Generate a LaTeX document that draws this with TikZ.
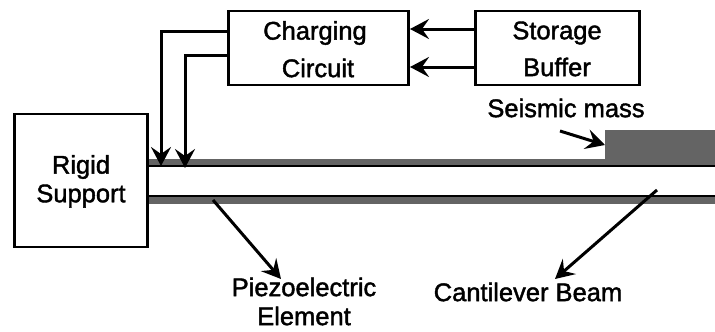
\documentclass[tikz,border=0pt]{standalone}
\usepackage{fontspec}
\setmainfont[FakeBold=1.6]{Liberation Sans}
\usetikzlibrary{arrows.meta}
\definecolor{massgray}{RGB}{100,100,100}
\tikzset{
  boxnode/.style={draw=black,line width=2.7pt,fill=white,inner sep=0pt,outer sep=0pt},
  lbl/.style={inner sep=0pt,font=\fontsize{25.5}{25.5}\selectfont,text=black},
  link/.style={draw=black,line width=3pt,-{Stealth[length=19pt,width=20pt,inset=7pt]}},
  strip/.style={fill=massgray,draw=none},
  rule/.style={draw=black,line width=2.2pt}
}
\begin{document}
\begin{tikzpicture}[x=1pt,y=-1pt]
\useasboundingbox (0,0) rectangle (715,332);
% strips and mass
\fill[strip] (148,159) rectangle (715,166);
\fill[strip] (148,197) rectangle (715,204);
\node[strip,minimum width=110pt,minimum height=30pt,inner sep=0pt,outer sep=0pt,anchor=north west] (mass) at (605,130) {};
\coordinate (upL) at (148,166); \coordinate (upR) at (715,166);
\coordinate (loL) at (148,196); \coordinate (loR) at (715,196);
\draw[rule] (upL) -- (upR);
\draw[rule] (loL) -- (loR);
% boxes
\node[boxnode,minimum width=133pt,minimum height=133pt,anchor=north west] (rigid) at (14.5,114) {};
\node[boxnode,minimum width=180pt,minimum height=74pt,anchor=north west] (charge) at (228.5,11) {};
\node[boxnode,minimum width=164pt,minimum height=74pt,anchor=north west] (store) at (475.5,11) {};
% text
\node[lbl] (t1) at (315,33) {Charging};
\node[lbl] (t2) at (318,68) {Circuit};
\node[lbl] (t3) at (557,33) {Storage};
\node[lbl] (t4) at (557,67) {Buffer};
\node[lbl] (t5) at (566,108) {Seismic mass};
\node[lbl] (t6) at (81,167) {Rigid};
\node[lbl] (t7) at (81,196) {Support};
\node[lbl] (t8) at (304,287) {Piezoelectric};
\node[lbl] (t9) at (304,316) {Element};
\node[lbl] (t10) at (528,292) {Cantilever Beam};
% connectors
\coordinate (c1) at (228,31); \coordinate (c2) at (228,55);
\coordinate (e1) at (161,166); \coordinate (e2) at (185,168);
\draw[link] (c1) -| (e1);
\draw[link] (c2) -| (e2);
\coordinate (s1) at (475,29); \coordinate (s2) at (475,67);
\coordinate (d1) at (410,29); \coordinate (d2) at (410,67);
\draw[link] (s1) -- (d1);
\draw[link] (s2) -- (d2);
\coordinate (m0) at (560,131);
\draw[link] (m0) -- (mass.west |- 0,145);
\coordinate (p0) at (213,200); \coordinate (p1) at (281,279);
\draw[link] (p0) -- (p1);
\coordinate (b0) at (657,190); \coordinate (b1) at (555,279);
\draw[link] (b0) -- (b1);
\end{tikzpicture}
\end{document}
